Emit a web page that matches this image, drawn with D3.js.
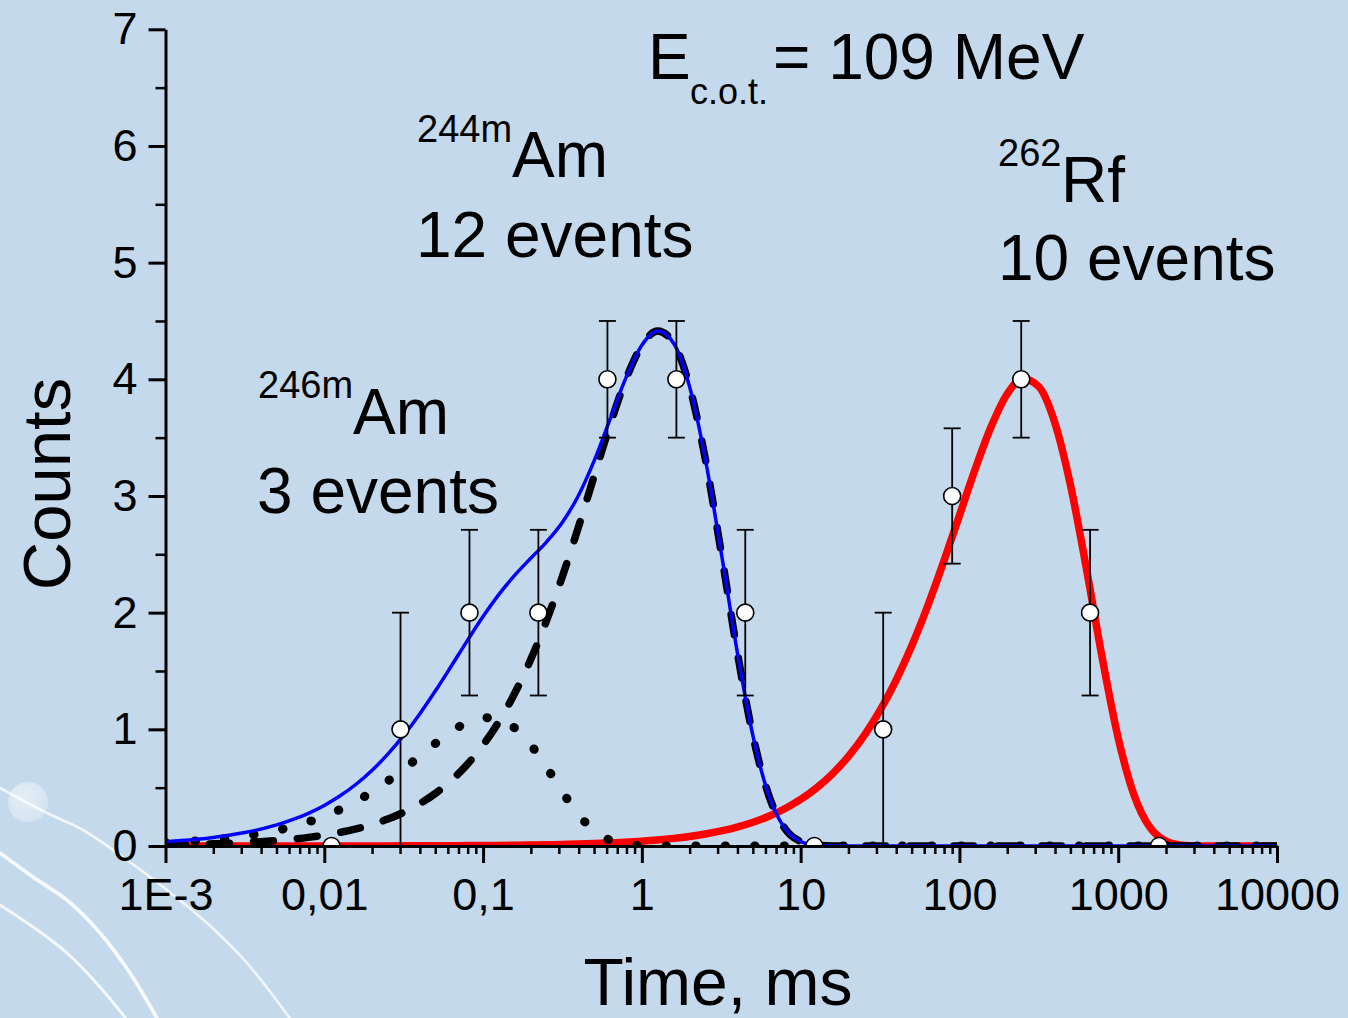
<!DOCTYPE html>
<html>
<head>
<meta charset="utf-8">
<script src="https://cdn.jsdelivr.net/npm/d3@7"></script>
<style>
  html, body { margin: 0; padding: 0; background: #c4d9ec; }
  svg { display: block; }
</style>
</head>
<body>
<svg id="chart" width="1348" height="1018"></svg>
<script>
// Measured decay-time histogram: bin centres (ms), counts and error bars
const binTimes  = [0.0111, 0.0302, 0.0821, 0.223, 0.607, 1.65, 4.48, 12.2, 33.1, 90.0, 245, 665, 1808];
const binCounts = [0, 1, 2, 2, 4, 4, 2, 0, 1, 3, 4, 2, 0];
const binErrors = [0, 1, 0.71, 0.71, 0.5, 0.5, 0.71, 0, 1, 0.58, 0.5, 0.71, 0];

// Fitted decay curves, sampled every 0.1 decade of time (ms)
const fitTimes = [
  0.001, 0.001259, 0.001585, 0.001995, 0.002512, 0.003162, 0.003981, 0.005012, 0.00631, 0.007943,
  0.01, 0.01259, 0.01585, 0.01995, 0.02512, 0.03162, 0.03981, 0.05012, 0.0631, 0.07943,
  0.1, 0.1259, 0.1585, 0.1995, 0.2512, 0.3162, 0.3981, 0.5012, 0.631, 0.7943,
  1, 1.259, 1.585, 1.995, 2.512, 3.162, 3.981, 5.012, 6.31, 7.943,
  10, 12.59, 15.85, 19.95, 25.12, 31.62, 39.81, 50.12, 63.1, 79.43,
  100, 125.9, 158.5, 199.5, 251.2, 316.2, 398.1, 501.2, 631, 794.3,
  1000, 1259, 1585, 1995, 2512, 3162, 3981, 5012, 6310, 7943, 10000
];
// 244mAm component (dashed)
const fitAm244 = [
  0.0094, 0.0118, 0.0148, 0.0186, 0.0235, 0.0295, 0.0371, 0.0467, 0.0588, 0.0739,
  0.0929, 0.1167, 0.1465, 0.1838, 0.2305, 0.2887, 0.3612, 0.4510, 0.5621, 0.6987,
  0.8656, 1.0679, 1.3107, 1.5981, 1.9325, 2.3125, 2.7312, 3.1730, 3.6099, 4.0011,
  4.2904, 4.4136, 4.3096, 3.9396, 3.3145, 2.5132, 1.6701, 0.9415, 0.4308, 0.1517,
  0.0384, 0.0064, 0.0006, 0, 0, 0, 0, 0, 0, 0,
  0, 0, 0, 0, 0, 0, 0, 0, 0, 0,
  0, 0, 0, 0, 0, 0, 0, 0, 0, 0, 0
];
// 246mAm component (dotted)
const fitAm246 = [
  0.0277, 0.0348, 0.0437, 0.0548, 0.0687, 0.0860, 0.1074, 0.1339, 0.1666, 0.2065,
  0.2550, 0.3134, 0.3827, 0.4637, 0.5564, 0.6592, 0.7687, 0.8790, 0.9804, 1.0597,
  1.1010, 1.0886, 1.0110, 0.8677, 0.6746, 0.4628, 0.2713, 0.1305, 0.0489, 0.0134,
  0.0025, 0.0003, 0, 0, 0, 0, 0, 0, 0, 0,
  0, 0, 0, 0, 0, 0, 0, 0, 0, 0,
  0, 0, 0, 0, 0, 0, 0, 0, 0, 0,
  0, 0, 0, 0, 0, 0, 0, 0, 0, 0, 0
];
// Sum of both Am components (blue)
const fitAmTotal = [
  0.0371, 0.0466, 0.0585, 0.0735, 0.0922, 0.1155, 0.1445, 0.1806, 0.2253, 0.2804,
  0.3479, 0.4301, 0.5292, 0.6476, 0.7869, 0.9479, 1.1299, 1.3300, 1.5425, 1.7584,
  1.9666, 2.1565, 2.3217, 2.4658, 2.6071, 2.7753, 3.0025, 3.3035, 3.6588, 4.0145,
  4.2929, 4.4139, 4.3096, 3.9396, 3.3145, 2.5132, 1.6701, 0.9415, 0.4308, 0.1517,
  0.0384, 0.0064, 0.0006, 0, 0, 0, 0, 0, 0, 0,
  0, 0, 0, 0, 0, 0, 0, 0, 0, 0,
  0, 0, 0, 0, 0, 0, 0, 0, 0, 0, 0
];
// 262Rf (red)
const fitRf262 = [
  0.00004, 0.00005, 0.00007, 0.00008, 0.0001, 0.00013, 0.00017, 0.00021, 0.00026, 0.00033,
  0.0004, 0.0005, 0.0007, 0.0008, 0.001, 0.0013, 0.0017, 0.0021, 0.0026, 0.0033,
  0.0041, 0.0052, 0.0066, 0.0083, 0.0104, 0.0131, 0.0164, 0.0207, 0.026, 0.0328,
  0.0413, 0.0519, 0.0653, 0.0821, 0.1031, 0.1295, 0.1625, 0.2038, 0.2553, 0.3194,
  0.3990, 0.4973, 0.6184, 0.7665, 0.9461, 1.1620, 1.4181, 1.7166, 2.0570, 2.4338,
  2.8334, 3.2328, 3.5951, 3.8724, 4.0058, 3.9379, 3.6315, 3.0891, 2.3745, 1.6065,
  0.9253, 0.4354, 0.1588, 0.0420, 0.0074, 0.0008, 0, 0, 0, 0, 0
];

// Axis ticks
const timeTicks = [0.001, 0.01, 0.1, 1, 10, 100, 1000, 10000];
const timeTickLabels = ["1E-3", "0,01", "0,1", "1", "10", "100", "1000", "10000"];
const countTicks = [0, 1, 2, 3, 4, 5, 6, 7];
const countMinorTicks = [0.5, 1.5, 2.5, 3.5, 4.5, 5.5, 6.5];

const FONT = "'Liberation Sans', Arial, Helvetica, sans-serif";
const W = 1348, H = 1018;
const plot = { left: 165.5, right: 1277, top: 29.3, bottom: 846 };

const svg = d3.select("#chart");

// ---- background ----
svg.append("rect").attr("width", W).attr("height", H).attr("fill", "#c4d9ec");

const defs = svg.append("defs");
const glow = defs.append("radialGradient").attr("id", "glow")
  .attr("cx", "40%").attr("cy", "40%").attr("r", "60%");
glow.append("stop").attr("offset", "0%").attr("stop-color", "#ffffff").attr("stop-opacity", 0.55);
glow.append("stop").attr("offset", "100%").attr("stop-color", "#ffffff").attr("stop-opacity", 0.3);

const deco = svg.append("g").attr("fill", "none").attr("stroke", "#ffffff").attr("stroke-linecap", "round");
const swirl = d3.line().curve(d3.curveCatmullRom);
deco.append("path").attr("stroke-width", 2.6).attr("stroke-opacity", 0.75)
  .attr("d", swirl([[0, 788], [47, 813], [83, 830], [127, 860], [167, 890], [207, 923], [247, 963], [291, 1020]]));
deco.append("path").attr("stroke-width", 3.8).attr("stroke-opacity", 0.85)
  .attr("d", swirl([[0, 853], [33, 877], [67, 900], [100, 933], [130, 973], [158, 1020]]));
deco.append("path").attr("stroke-width", 3).attr("stroke-opacity", 0.8)
  .attr("d", swirl([[0, 905], [33, 927], [67, 953], [100, 987], [127, 1020]]));
svg.append("circle").attr("cx", 28).attr("cy", 802).attr("r", 20).attr("fill", "url(#glow)");

// ---- scales ----
const x = d3.scaleLog().domain([1e-3, 1e4]).range([plot.left, plot.right]);
const y = d3.scaleLinear().domain([0, 7]).range([plot.bottom, plot.top]);

defs.append("clipPath").attr("id", "plotClip")
  .append("rect").attr("x", plot.left).attr("y", 0)
  .attr("width", plot.right - plot.left).attr("height", plot.bottom);

const line = d3.line()
  .x(d => x(d[0])).y(d => y(d[1]))
  .curve(d3.curveMonotoneX);

const curves = svg.append("g").attr("clip-path", "url(#plotClip)").attr("fill", "none");

curves.append("path").attr("d", line(d3.zip(fitTimes, fitRf262)))
  .attr("stroke", "#ff0000").attr("stroke-width", 7.5).attr("stroke-linejoin", "round");
curves.append("path").attr("d", line(d3.zip(fitTimes, fitAm246)))
  .attr("stroke", "#000000").attr("stroke-width", 9)
  .attr("stroke-linecap", "round").attr("stroke-dasharray", "0.5 29");
curves.append("path").attr("d", line(d3.zip(fitTimes, fitAm244)))
  .attr("stroke", "#000000").attr("stroke-width", 7.5)
  .attr("stroke-linecap", "round").attr("stroke-dasharray", "20 24");
curves.append("path").attr("d", line(d3.zip(fitTimes, fitAmTotal)))
  .attr("stroke", "#0000ff").attr("stroke-width", 3.5).attr("stroke-linejoin", "round");

// ---- error bars ----
const bins = binTimes.map((t, i) => ({ t, c: binCounts[i], e: binErrors[i] }));
const bars = svg.append("g").attr("stroke", "#000").attr("stroke-width", 1.8);
bins.filter(d => d.e > 0).forEach(d => {
  const cx = x(d.t), y0 = y(d.c - d.e), y1 = y(d.c + d.e);
  bars.append("line").attr("x1", cx).attr("x2", cx).attr("y1", y0).attr("y2", y1);
  bars.append("line").attr("x1", cx - 8.5).attr("x2", cx + 8.5).attr("y1", y0).attr("y2", y0);
  bars.append("line").attr("x1", cx - 8.5).attr("x2", cx + 8.5).attr("y1", y1).attr("y2", y1);
});

// ---- markers ----
svg.append("g").attr("clip-path", "url(#plotClip)")
  .selectAll("circle").data(bins).join("circle")
  .attr("cx", d => x(d.t)).attr("cy", d => y(d.c)).attr("r", 8.5)
  .attr("fill", "#ffffff").attr("stroke", "#000").attr("stroke-width", 1.6);

// ---- axes ----
function styleAxis(g, width) {
  g.select(".domain").attr("stroke", "#000").attr("stroke-width", 3);
  g.selectAll(".tick line").attr("stroke", "#000").attr("stroke-width", width);
  g.selectAll(".tick text").attr("fill", "#000");
}

const xMinor = [];
for (let p = -3; p < 4; p++) for (let m = 2; m <= 9; m++) xMinor.push(m * Math.pow(10, p));

svg.append("g").attr("transform", `translate(0,${plot.bottom})`)
  .call(d3.axisBottom(x).tickValues(xMinor).tickSize(8).tickFormat(() => ""))
  .call(g => { g.select(".domain").remove(); styleAxis(g, 2.5); });

svg.append("g").attr("transform", `translate(${plot.left},0)`)
  .call(d3.axisLeft(y).tickValues(countMinorTicks).tickSize(10).tickFormat(() => ""))
  .call(g => { g.select(".domain").remove(); styleAxis(g, 2.5); });

svg.append("g").attr("transform", `translate(0,${plot.bottom})`)
  .call(d3.axisBottom(x).tickValues(timeTicks).tickSize(17).tickSizeOuter(0).tickPadding(15)
    .tickFormat((d, i) => timeTickLabels[i]))
  .attr("font-size", 45).attr("font-family", FONT)
  .call(g => styleAxis(g, 3));

svg.append("g").attr("transform", `translate(${plot.left},0)`)
  .call(d3.axisLeft(y).tickValues(countTicks).tickSize(17).tickSizeOuter(0).tickPadding(11)
    .tickFormat(d3.format("d")))
  .attr("font-size", 45).attr("font-family", FONT)
  .call(g => styleAxis(g, 3));

// ---- axis titles ----
svg.append("text").attr("transform", "translate(70,484) rotate(-90)")
  .attr("text-anchor", "middle").attr("font-family", FONT).attr("font-size", 67)
  .attr("fill", "#000").text("Counts");
svg.append("text").attr("x", 718).attr("y", 1005)
  .attr("text-anchor", "middle").attr("font-family", FONT).attr("font-size", 66)
  .attr("fill", "#000").text("Time, ms");

// ---- annotations ----
const notes = svg.append("g").attr("font-family", FONT).attr("fill", "#000");
function note(xp, yp, size, str) {
  notes.append("text").attr("x", xp).attr("y", yp).attr("font-size", size).text(str);
}
note(648, 79, 64, "E");
note(690, 104, 36, "c.o.t.");
note(773, 79, 64, "= 109 MeV");

note(417, 142, 38, "244m");
note(512, 177, 64, "Am");
note(416, 257, 64, "12 events");

note(258, 398, 38, "246m");
note(353, 434, 64, "Am");
note(257, 513, 64, "3 events");

note(998, 166, 38, "262");
note(1061, 202, 64, "Rf");
note(998, 280, 64, "10 events");
</script>
</body>
</html>
